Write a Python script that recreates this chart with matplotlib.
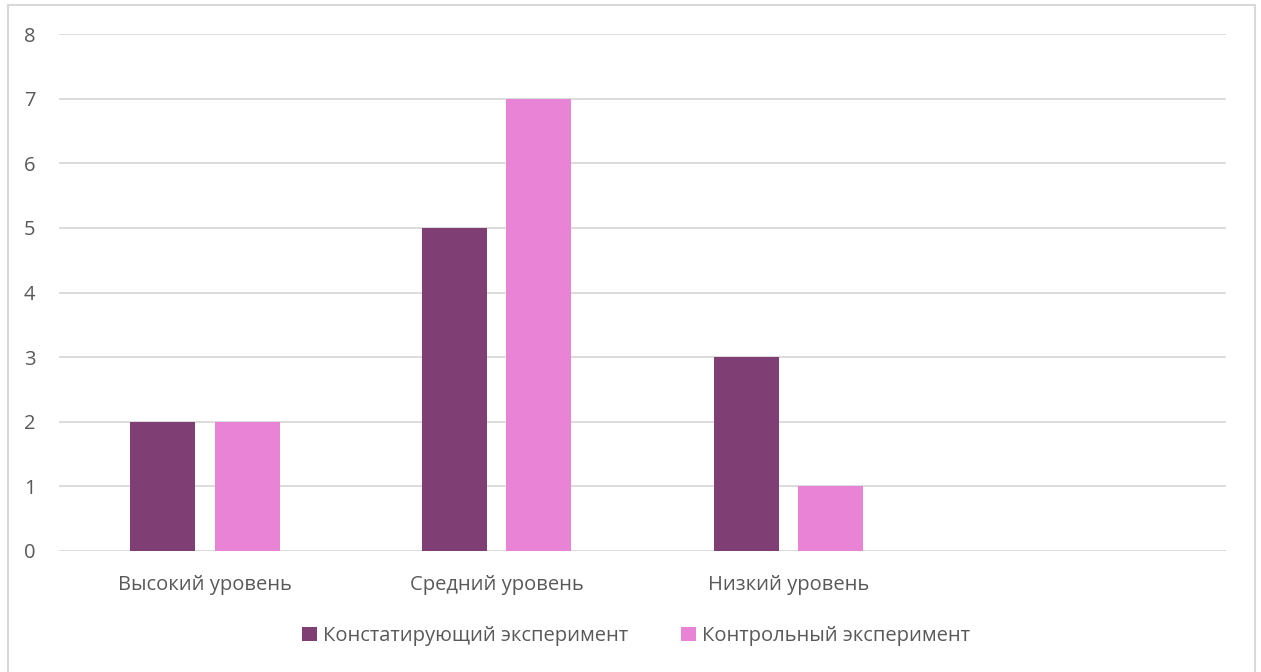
import numpy as np
import matplotlib.pyplot as plt
from matplotlib.patches import Rectangle

# levels (last slot is empty in the original chart)
categories = ['Высокий уровень', 'Средний уровень', 'Низкий уровень', '']
konstat = [2, 5, 3, 0]
kontrol = [2, 7, 1, 0]
series_names = ['Констатирующий эксперимент', 'Контрольный эксперимент']
colors = ['#7F3F75', '#E983D5']

plt.rcParams['font.family'] = ['Open Sans', 'DejaVu Sans']

fig = plt.figure(figsize=(12.61, 6.72), dpi=100)
ax = fig.add_axes([59 / 1261, 1 - 551 / 672, (1226 - 59) / 1261, (551 - 34) / 672])

x = np.arange(len(categories))
w = 0.223
off = 0.145
ax.bar(x[:3] - off, konstat[:3], w, color=colors[0], label=series_names[0], zorder=3)
ax.bar(x[:3] + off, kontrol[:3], w, color=colors[1], label=series_names[1], zorder=3)

ax.set_xlim(-0.5, 3.5)
ax.set_ylim(0, 8)
ax.set_yticks(range(0, 9))
ax.set_xticks(x)
ax.set_xticklabels(categories)
ax.yaxis.grid(True, color='#d9d9d9', linewidth=1.3, zorder=0)
for s in ax.spines.values():
    s.set_visible(False)
ax.tick_params(length=0, labelsize=14.5, labelcolor='#595959')
ax.tick_params(axis='x', pad=17)
ax.tick_params(axis='y', pad=17)

fig.legend(loc='center', bbox_to_anchor=(636 / 1261, 1 - 636 / 672), ncol=2,
           frameon=False, fontsize=14.5, labelcolor='#595959', handlelength=0.75,
           handleheight=0.75, handletextpad=0.3, columnspacing=2.6)

fig.patches.append(Rectangle((8 / 1261, -0.05), (1255 - 8) / 1261, 1.05 - 5 / 672,
                             transform=fig.transFigure, fill=False,
                             edgecolor='#d9d9d9', linewidth=1.5))

fig.savefig('out.png', dpi=100, facecolor='white')
